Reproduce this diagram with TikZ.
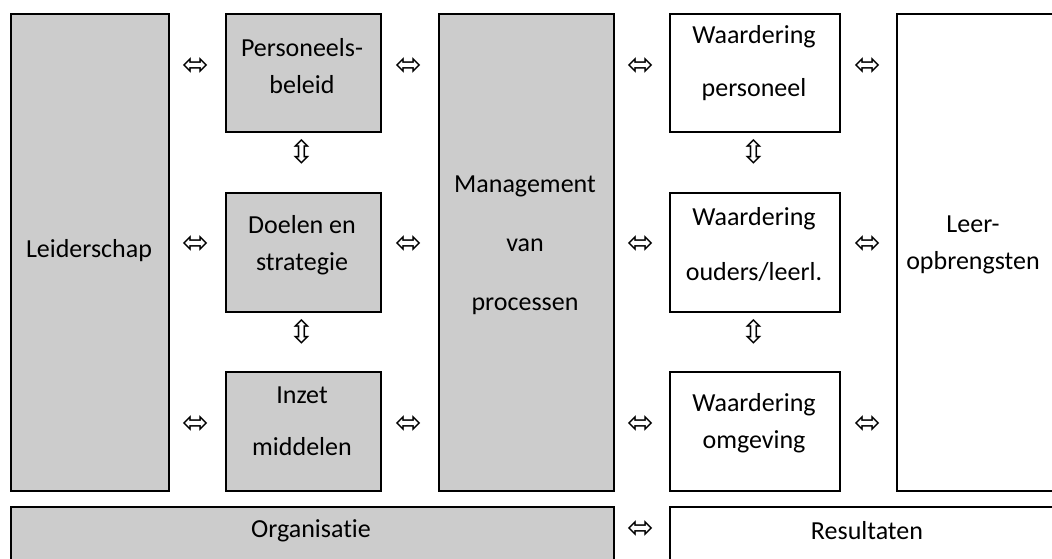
\documentclass[tikz,border=0pt]{standalone}
\usepackage{fontspec}
\setmainfont{Carlito}[Ligatures=NoCommon]
\newfontfamily\arrowfont{DejaVu Sans}
\definecolor{boxgrey}{HTML}{CCCCCC}
\tikzset{
  greybox/.style={draw, line width=1.5, fill=boxgrey, anchor=north west, inner sep=0},
  whitebox/.style={draw, line width=1.5, fill=white, anchor=north west, inner sep=0},
  txt/.style={align=center, inner sep=0, font=\fontsize{26}{37}\selectfont},
  harrow/.style={inner sep=0, font=\arrowfont\fontsize{32}{32}\selectfont},
}
\begin{document}
\begin{tikzpicture}[x=1pt, y=-1pt]
      \useasboundingbox (0,0) rectangle (1052,558);
      \clip (0,0) rectangle (1052,558);
      \fill[white] (0,0) rectangle (1052,558);
      % boxes
      \node[greybox, minimum width=158, minimum height=477] (leider) at (10,13) {};
      \node[greybox, minimum width=155, minimum height=118] (pers) at (225,13) {};
      \node[greybox, minimum width=155, minimum height=119] (doel) at (225,192) {};
      \node[greybox, minimum width=155, minimum height=119] (inzet) at (225,371) {};
      \node[greybox, minimum width=175, minimum height=477] (mgmt) at (438,13) {};
      \node[whitebox, minimum width=170, minimum height=118] (wpers) at (669,13) {};
      \node[whitebox, minimum width=170, minimum height=119] (wouders) at (669,192) {};
      \node[whitebox, minimum width=170, minimum height=119] (womg) at (669,371) {};
      \node[whitebox, minimum width=162, minimum height=477] (leer) at (896,13) {};
      \node[greybox, minimum width=603, minimum height=60] (org) at (10,506) {};
      \node[whitebox, minimum width=400, minimum height=60] (res) at (669,506) {};
      % texts
      \node[txt] (leider-t) at (89,251) {Leiderschap};
      \node[txt] (pers-t) at (302,66) {Personeels-\\beleid};
      \node[txt] (doel-t) at (302,245) {Doelen en\\strategie};
      \node[txt] (inzet-t) at (302,421) {Inzet\\[15pt]middelen};
      \node[txt] (mgmt-t) at (525,245) {Management\\[22pt]van\\[22pt]processen};
      \node[txt] (wpers-t) at (754,63) {Waardering\\[16pt]personeel};
      \node[txt] (wouders-t) at (754,245) {Waardering\\[18pt]ouders/leerl.};
      \node[txt] (womg-t) at (754,423) {Waardering\\omgeving};
      \node[txt] (leer-t) at (973,245) {Leer-\\opbrengsten};
      \node[txt] (org-t) at (311,531) {Organisatie};
      \node[txt] (res-t) at (867,531) {Resultaten};
      % arrows
      \foreach \x in {196,409,641,868}
        \foreach \y in {67,245,425}
          \node[harrow] (lr-\x-\y) at (\x,\y) {⬄};
      \node[harrow] (lr-bottom) at (641,530) {⬄};
      \foreach \x in {302,754}
        \foreach \y in {152,332}
          \node[harrow] (ud-\x-\y) at (\x,\y) {⇳};
\end{tikzpicture}
\end{document}
